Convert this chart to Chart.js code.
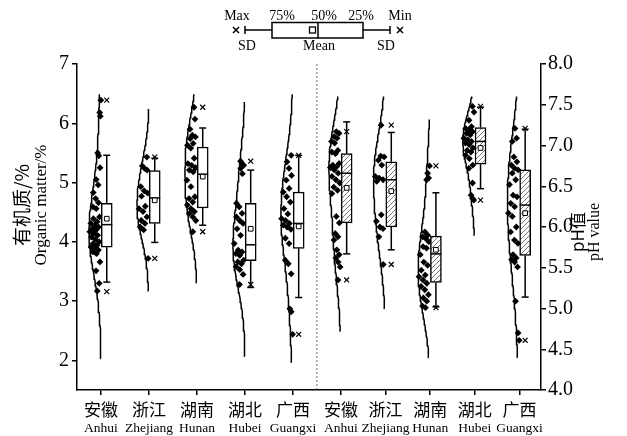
<!DOCTYPE html>
<html lang="zh">
<head>
<meta charset="UTF-8">
<title>有机质与pH值</title>
<script src="https://cdn.jsdelivr.net/npm/chart.js"></script>
<style>
  body { margin: 0; background: #fff; }
  #wrap { width: 627px; height: 436px; }
</style>
</head>
<body>
<div id="wrap"><canvas id="chart" width="627" height="436"></canvas></div>
<script>
const provincesZh = ['安徽', '浙江', '湖南', '湖北', '广西'];
const provincesEn = ['Anhui', 'Zhejiang', 'Hunan', 'Hubei', 'Guangxi'];

// organic matter (%), left axis
const omPoints = [
  [6.39, 6.18, 6.12, 5.50, 5.45, 5.25, 5.05, 4.96, 4.83, 4.73, 4.66, 4.59, 4.56, 4.42, 4.39, 4.34, 4.31, 4.28, 4.25, 4.22, 4.20, 4.17, 4.14, 4.11, 4.08, 4.04, 4.00, 3.97, 3.94, 3.91, 3.89, 3.86, 3.83, 3.80, 3.66, 3.51, 3.30, 3.17],
  [5.43, 5.28, 5.24, 5.21, 4.93, 4.86, 4.82, 4.77, 4.60, 4.56, 4.51, 4.42, 4.36, 4.31, 4.25, 4.20, 3.72],
  [6.27, 6.07, 5.90, 5.80, 5.77, 5.74, 5.66, 5.63, 5.58, 5.41, 5.32, 5.29, 5.25, 5.21, 5.18, 5.04, 4.93, 4.76, 4.73, 4.67, 4.62, 4.56, 4.51, 4.48, 4.42, 4.36, 4.17],
  [5.36, 5.32, 5.29, 5.24, 5.15, 4.65, 4.59, 4.48, 4.42, 4.36, 4.31, 4.22, 4.11, 3.97, 3.86, 3.83, 3.80, 3.77, 3.69, 3.66, 3.63, 3.58, 3.53, 3.45, 3.28],
  [5.46, 5.35, 5.24, 5.12, 5.04, 4.90, 4.84, 4.76, 4.67, 4.56, 4.47, 4.39, 4.36, 4.31, 4.28, 4.25, 4.21, 4.06, 3.97, 3.69, 3.63, 3.46, 2.87, 2.82, 2.44]
];
const omQ1 = [3.91, 4.31, 4.57, 3.68, 3.89];
const omMedian = [4.29, 4.74, 5.14, 3.95, 4.31];
const omQ3 = [4.65, 5.20, 5.60, 4.65, 4.84];
const omMean = [4.39, 4.70, 5.10, 4.22, 4.26];
const omSD = [1.07, 0.71, 0.82, 0.99, 1.20];
const omMax = [6.39, 5.43, 6.27, 5.36, 5.46];
const omMin = [3.16, 3.72, 4.17, 3.28, 2.44];
const omCurveLo = [2.03, 3.17, 3.31, 2.07, 1.97];
const omCurveHi = [6.49, 6.24, 6.49, 6.36, 6.49];

// pH, right axis
const phPoints = [
  [7.17, 7.15, 7.11, 7.09, 7.05, 7.03, 6.94, 6.92, 6.90, 6.78, 6.76, 6.74, 6.73, 6.70, 6.66, 6.62, 6.58, 6.54, 6.49, 6.45, 6.41, 6.13, 6.05, 5.92, 5.88, 5.84, 5.72, 5.66, 5.62, 5.57, 5.51, 5.35],
  [7.25, 6.87, 6.86, 6.82, 6.76, 6.62, 6.60, 6.58, 6.56, 6.15, 6.07, 6.00, 5.98, 5.88, 5.54],
  [6.75, 6.66, 6.60, 6.58, 5.94, 5.90, 5.88, 5.86, 5.82, 5.76, 5.74, 5.66, 5.57, 5.53, 5.47, 5.41, 5.39, 5.35, 5.31, 5.27, 5.23, 5.17, 5.13, 5.09, 5.03, 5.01],
  [7.48, 7.41, 7.31, 7.23, 7.21, 7.19, 7.17, 7.15, 7.13, 7.09, 7.07, 7.05, 7.03, 7.01, 6.97, 6.94, 6.92, 6.88, 6.84, 6.76, 6.72, 6.54, 6.39, 6.35, 6.33],
  [7.21, 7.09, 7.05, 6.86, 6.80, 6.76, 6.72, 6.70, 6.66, 6.58, 6.52, 6.39, 6.37, 6.29, 6.25, 6.17, 6.13, 6.00, 5.94, 5.84, 5.80, 5.66, 5.62, 5.60, 5.57, 5.51, 5.09, 4.70, 4.61]
];
const phQ1 = [6.05, 6.00, 5.32, 6.77, 5.65];
const phMedian = [6.66, 6.58, 5.67, 7.05, 6.27];
const phQ3 = [6.90, 6.80, 5.89, 7.22, 6.70];
const phMean = [6.48, 6.44, 5.72, 6.97, 6.17];
const phSD = [0.81, 0.72, 0.70, 0.50, 1.03];
const phMax = [7.17, 7.25, 6.75, 7.48, 7.21];
const phMin = [5.35, 5.54, 5.01, 6.33, 4.61];
const phCurveLo = [4.72, 5.00, 4.40, 5.90, 4.40];
const phCurveHi = [7.60, 7.60, 7.32, 7.60, 7.60];

const omTicks = [2, 3, 4, 5, 6, 7];
const phTicks = [4.0, 4.5, 5.0, 5.5, 6.0, 6.5, 7.0, 7.5, 8.0];

// layout helpers
const serif = "'Liberation Serif', 'Times New Roman', serif";
const cjk = "'Noto Sans CJK SC', sans-serif";
const slot = i => i < 5 ? 1 + i : 6 + (i - 5) * 0.93;
const boxShift = 0.12;
const curveWidth = 0.25;

function sdOf(a) {
  const m = a.reduce((s, v) => s + v, 0) / a.length;
  return Math.sqrt(a.reduce((s, v) => s + (v - m) ** 2, 0) / a.length);
}
// smooth density of the points (wide gaussian kernel)
function kde(vals) {
  const h = 1.5 * 1.06 * sdOf(vals) * Math.pow(vals.length, -0.2);
  return v => vals.reduce((s, x) => s + Math.exp(-0.5 * ((v - x) / h) ** 2), 0);
}

const groups = [];
for (let i = 0; i < 5; i++) {
  groups.push({ axis: 'y', pts: omPoints[i], q1: omQ1[i], med: omMedian[i], q3: omQ3[i], mean: omMean[i], sd: omSD[i], max: omMax[i], min: omMin[i], lo: omCurveLo[i], hi: omCurveHi[i] });
}
for (let i = 0; i < 5; i++) {
  groups.push({ axis: 'y1', pts: phPoints[i], q1: phQ1[i], med: phMedian[i], q3: phQ3[i], mean: phMean[i], sd: phSD[i], max: phMax[i], min: phMin[i], lo: phCurveLo[i], hi: phCurveHi[i] });
}

const canvas = document.getElementById('chart');
const ctx = canvas.getContext('2d');

// hatch for pH boxes
const pc = document.createElement('canvas');
pc.width = 5; pc.height = 5;
const p = pc.getContext('2d');
p.fillStyle = '#fff'; p.fillRect(0, 0, 5, 5);
p.strokeStyle = '#555'; p.lineWidth = 0.8;
p.beginPath();
p.moveTo(0, 5); p.lineTo(5, 0);
p.moveTo(-1, 1); p.lineTo(1, -1);
p.moveTo(4, 6); p.lineTo(6, 4);
p.stroke();
const hatch = ctx.createPattern(pc, 'repeat');

const datasets = [];
['y', 'y1'].forEach(axis => {
  const pts = [], whisk = [], caps = [], meds = [], means = [], crosses = [], boxes = [];
  groups.forEach((g, i) => {
    if (g.axis !== axis) return;
    const c = slot(i), bx = c + boxShift;
    const dens = kde(g.pts);
    let dmax = 0;
    const curve = [];
    for (let k = 0; k <= 80; k++) {
      const v = g.lo + (g.hi - g.lo) * k / 80;
      const d = dens(v);
      dmax = Math.max(dmax, d);
      curve.push({ v, d });
    }
    datasets.push({
      type: 'scatter', yAxisID: axis, showLine: true, pointRadius: 0,
      borderColor: '#000', borderWidth: 1.5, order: 5,
      data: curve.map(o => ({ x: c - curveWidth * o.d / dmax, y: o.v }))
    });
    g.pts.forEach((v, k) => {
      const u = 0.1 + 0.85 * ((k * 0.618034 + i * 0.3) % 1);
      pts.push({ x: c - curveWidth * dens(v) / dmax * u, y: v });
    });
    boxes.push({ x: bx, y: [g.q1, g.q3] });
    whisk.push({ x: bx, y: g.q3 }, { x: bx, y: g.mean + g.sd }, { x: NaN, y: NaN },
               { x: bx, y: g.q1 }, { x: bx, y: g.mean - g.sd }, { x: NaN, y: NaN });
    caps.push({ x: bx, y: g.mean + g.sd }, { x: bx, y: g.mean - g.sd });
    meds.push({ x: bx, y: g.med });
    means.push({ x: bx, y: g.mean });
    crosses.push({ x: bx, y: g.max }, { x: bx, y: g.min });
  });
  const isPh = axis === 'y1';
  datasets.push(
    { type: 'scatter', yAxisID: axis, data: pts, pointStyle: 'rectRot', pointRadius: 3.4, backgroundColor: '#000', borderWidth: 0, order: 4 },
    { type: 'bar', yAxisID: axis, data: boxes, barThickness: 11, grouped: false, borderSkipped: false, borderWidth: 1.5, borderColor: '#000', backgroundColor: isPh ? hatch : '#fff', order: 2 },
    { type: 'scatter', yAxisID: axis, data: whisk, showLine: true, spanGaps: false, pointRadius: 0, borderColor: '#000', borderWidth: 1.5, order: 3 },
    { type: 'scatter', yAxisID: axis, data: caps, pointStyle: 'line', pointRadius: 3.5, borderColor: '#000', borderWidth: 1.5, order: 3 },
    { type: 'scatter', yAxisID: axis, data: meds, pointStyle: 'line', pointRadius: 5.5, borderColor: '#000', borderWidth: 1.5, order: 1 },
    { type: 'scatter', yAxisID: axis, data: crosses, pointStyle: 'crossRot', pointRadius: 3.5, borderColor: '#000', borderWidth: 1.2, order: 1 },
    { type: 'scatter', yAxisID: axis, data: means, pointStyle: 'rect', pointRadius: 3.3, backgroundColor: '#fff', borderColor: '#000', borderWidth: 1, order: 0 }
  );
});

const axisGrid = { drawOnChartArea: false, offset: false, tickLength: 5, color: '#000', tickColor: '#000', lineWidth: 1.5, tickWidth: 1.5 };
const axisBorder = { color: '#000', width: 1.5 };

const decorations = {
  id: 'decorations',
  afterDraw(chart) {
    const c = chart.ctx, a = chart.chartArea, xs = chart.scales.x;
    c.save();
    // divider between the two panels
    const dx = xs.getPixelForValue((slot(4) + slot(5)) / 2);
    c.strokeStyle = '#444'; c.lineWidth = 0.8; c.setLineDash([2, 2]);
    c.beginPath(); c.moveTo(dx, a.top); c.lineTo(dx, a.bottom); c.stroke();
    c.setLineDash([]);

    // category labels
    c.fillStyle = '#000'; c.textAlign = 'center'; c.textBaseline = 'middle';
    for (let i = 0; i < 10; i++) {
      const px = xs.getPixelForValue(slot(i));
      c.font = '17px ' + cjk;
      c.fillText(provincesZh[i % 5], px, 410);
      c.font = '13.5px ' + serif;
      c.fillText(provincesEn[i % 5], px, 428);
    }

    // axis titles
    function vtext(txt, x, y, font) {
      c.save(); c.translate(x, y); c.rotate(-Math.PI / 2);
      c.font = font; c.fillText(txt, 0, 0); c.restore();
    }
    vtext('有机质/%', 22, 205, '19px ' + cjk);
    vtext('Organic matter/%', 42, 205, '17px ' + serif);
    vtext('pH值', 578, 232, '17px ' + cjk);
    vtext('pH value', 595, 232, '16px ' + serif);

    // box legend
    const ly = 30;
    c.strokeStyle = '#000'; c.lineWidth = 1.5;
    c.beginPath();
    c.moveTo(245, ly); c.lineTo(272, ly);
    c.moveTo(245, ly - 4); c.lineTo(245, ly + 4);
    c.moveTo(363, ly); c.lineTo(390, ly);
    c.moveTo(390, ly - 4); c.lineTo(390, ly + 4);
    c.moveTo(318, 22.5); c.lineTo(318, 38);
    c.stroke();
    c.strokeRect(272, 22.5, 91, 15.5);
    c.lineWidth = 1.3;
    c.strokeRect(309.5, 27, 6, 6);
    c.lineWidth = 1.5;
    [236, 400].forEach(x => {
      c.beginPath();
      c.moveTo(x - 3, ly - 3); c.lineTo(x + 3, ly + 3);
      c.moveTo(x + 3, ly - 3); c.lineTo(x - 3, ly + 3);
      c.stroke();
    });
    c.font = '14px ' + serif;
    c.fillText('Max', 237, 16);
    c.fillText('75%', 282, 16);
    c.fillText('50%', 324, 16);
    c.fillText('25%', 361, 16);
    c.fillText('Min', 400, 16);
    c.fillText('SD', 247, 46);
    c.fillText('Mean', 319, 46);
    c.fillText('SD', 386, 46);
    c.restore();
  }
};

new Chart(ctx, {
  type: 'scatter',
  data: { datasets },
  options: {
    responsive: false,
    animation: false,
    layout: { padding: { top: 64 } },
    plugins: { legend: { display: false }, tooltip: { enabled: false } },
    scales: {
      x: {
        type: 'linear', min: 0.5, max: 10.17, offset: false,
        afterBuildTicks: s => { s.ticks = [0, 1, 2, 3, 4, 5, 6, 7, 8, 9].map(i => ({ value: slot(i) })); },
        afterFit: s => { s.height = 46; },
        ticks: { display: false },
        grid: axisGrid, border: axisBorder
      },
      y: {
        position: 'left', min: 1.5, max: 7,
        afterBuildTicks: s => { s.ticks = omTicks.map(v => ({ value: v })); },
        afterFit: s => { s.width = 77; },
        ticks: { color: '#000', padding: 3, font: { family: serif, size: 20 } },
        grid: axisGrid, border: axisBorder
      },
      y1: {
        position: 'right', min: 4, max: 8,
        afterBuildTicks: s => { s.ticks = phTicks.map(v => ({ value: v })); },
        afterFit: s => { s.width = 86; },
        ticks: { color: '#000', padding: 2, font: { family: serif, size: 20 }, callback: v => v.toFixed(1) },
        grid: axisGrid, border: axisBorder
      }
    }
  },
  plugins: [decorations]
});
</script>
</body>
</html>
